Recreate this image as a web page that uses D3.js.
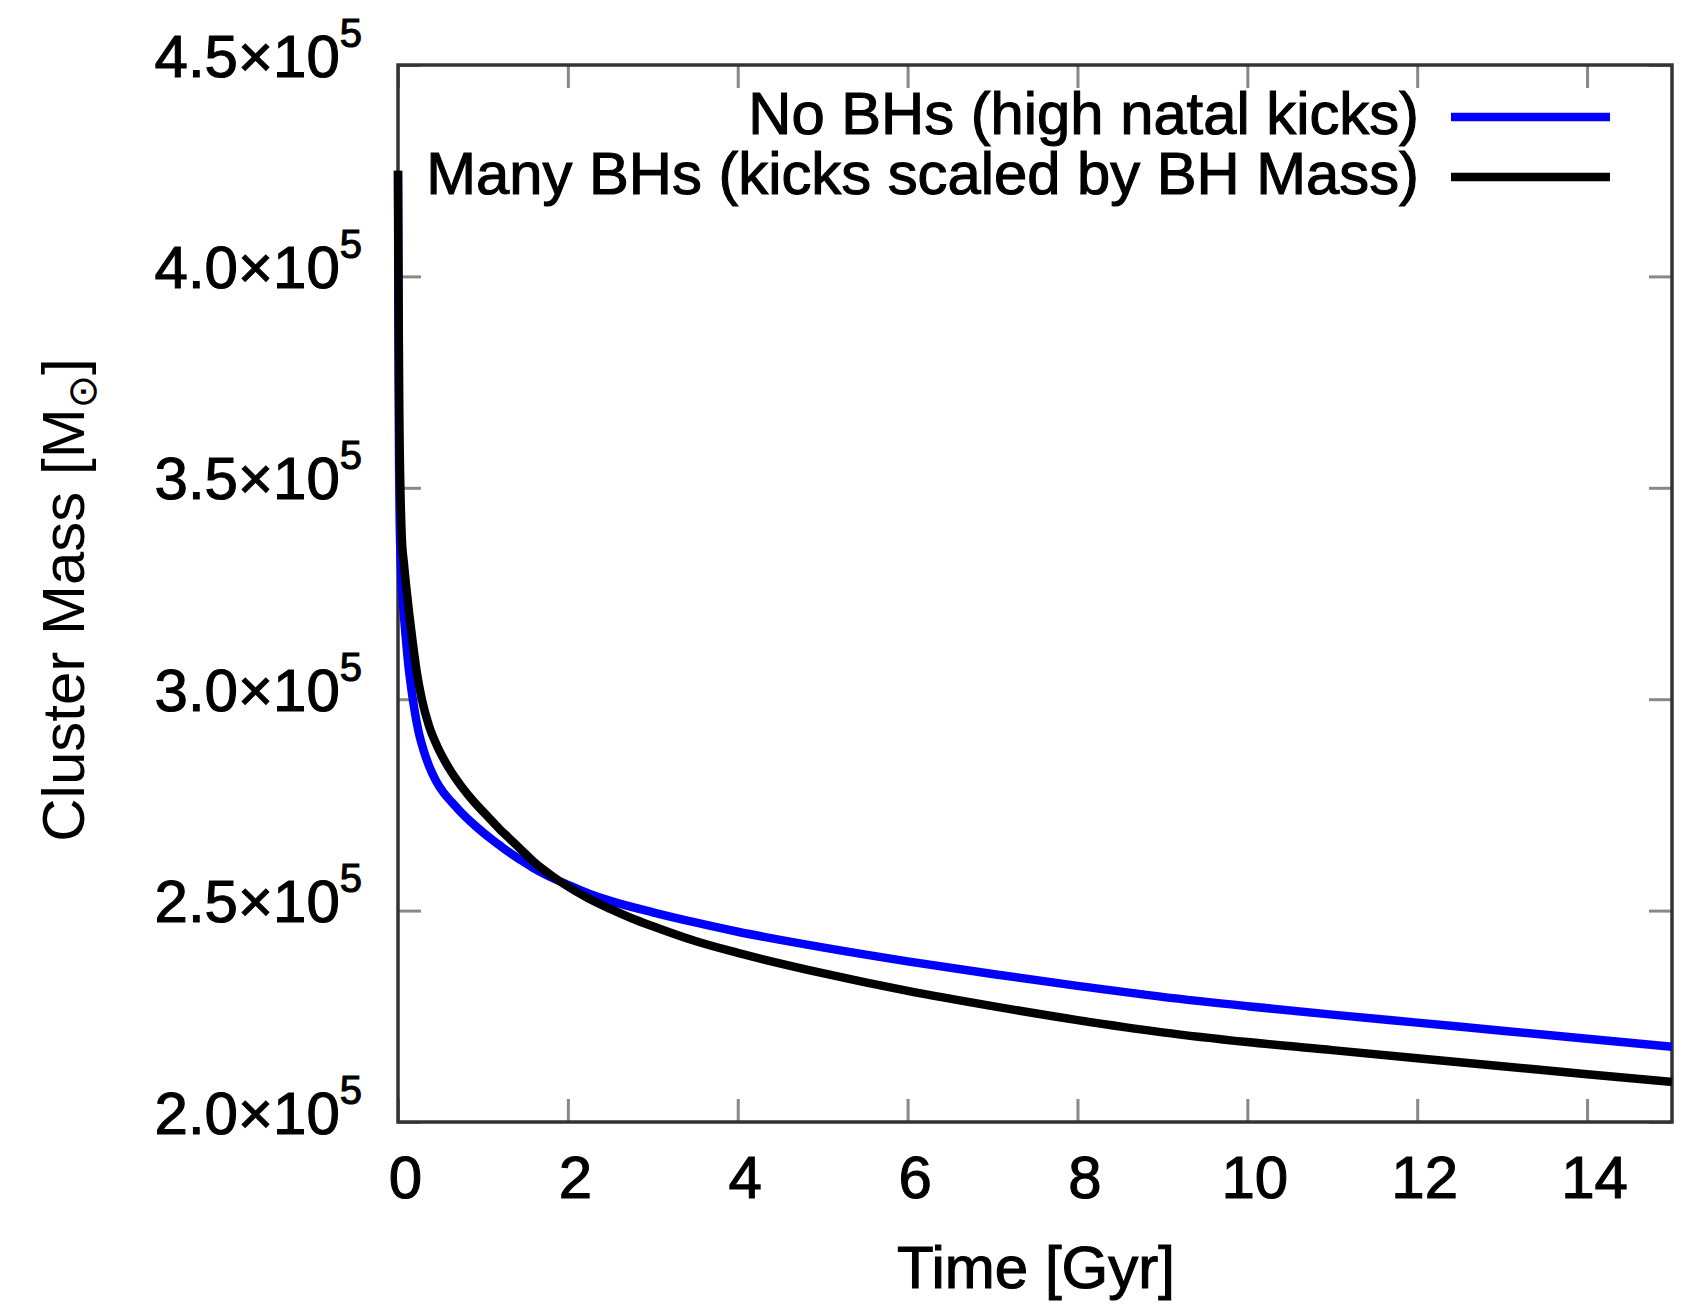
<!DOCTYPE html>
<html>
<head>
<meta charset="utf-8">
<script src="https://cdn.jsdelivr.net/npm/d3@7"></script>
<style>
  body { margin: 0; background: #fff; }
  svg { display: block; }
  text { font-family: "Liberation Sans", Arial, Helvetica, sans-serif; fill: #000; }
  .heavy { stroke: #000; stroke-width: 1.1px; }
</style>
</head>
<body>
<svg id="chart" width="1689" height="1312"></svg>
<script>
// Cluster mass evolution, in units of 1e5 solar masses, versus time in Gyr.
const noBHTime = [0, 0.004, 0.008, 0.013, 0.02, 0.03, 0.045, 0.065, 0.09, 0.12, 0.15, 0.19, 0.24, 0.30, 0.37, 0.45, 0.54, 0.63, 0.75, 0.88, 1.0, 1.1, 1.18, 1.3, 1.45, 1.6, 1.8, 2.0, 2.25, 2.5, 3.0, 3.5, 4.0, 5.0, 6.0, 7.0, 8.0, 9.0, 10.0, 11.0, 12.0, 13.0, 14.0, 15.0];
const noBHMass = [4.25, 3.95, 3.72, 3.55, 3.42, 3.34, 3.27, 3.21, 3.15, 3.085, 3.035, 2.98, 2.925, 2.88, 2.84, 2.806, 2.778, 2.757, 2.731, 2.706, 2.685, 2.669, 2.657, 2.639, 2.619, 2.6, 2.579, 2.561, 2.54, 2.523, 2.496, 2.472, 2.450, 2.413, 2.380, 2.350, 2.322, 2.296, 2.274, 2.254, 2.235, 2.216, 2.197, 2.178];

const manyBHTime = [0, 0.008, 0.016, 0.028, 0.045, 0.07, 0.10, 0.13, 0.17, 0.22, 0.28, 0.36, 0.47, 0.6, 0.75, 0.9, 1.05, 1.2, 1.3, 1.45, 1.6, 1.8, 2.0, 2.25, 2.5, 2.75, 3.0, 3.5, 4.0, 5.0, 6.0, 7.0, 8.0, 9.0, 10.0, 11.0, 12.0, 13.0, 14.0, 15.0];
const manyBHMass = [4.25, 3.9, 3.66, 3.5, 3.38, 3.32, 3.26, 3.205, 3.14, 3.065, 3.0, 2.94, 2.885, 2.837, 2.793, 2.756, 2.724, 2.692, 2.673, 2.644, 2.615, 2.584, 2.557, 2.528, 2.504, 2.482, 2.463, 2.428, 2.400, 2.352, 2.310, 2.274, 2.241, 2.212, 2.189, 2.170, 2.151, 2.132, 2.113, 2.095];

const seriesNames = ["No BHs (high natal kicks)", "Many BHs (kicks scaled by BH Mass)"];
const seriesColors = ["#0000ff", "#000000"];

const xTicks = [0, 2, 4, 6, 8, 10, 12, 14];
const yTicks = [2.0, 2.5, 3.0, 3.5, 4.0, 4.5];
const yTickLabels = ["2.0", "2.5", "3.0", "3.5", "4.0", "4.5"];

const svg = d3.select("#chart");
const plot = { left: 398, right: 1672, top: 65, bottom: 1122 };

const x = d3.scaleLinear().domain([0, 15]).range([plot.left, plot.right]);
const y = d3.scaleLinear().domain([2.0, 4.5]).range([plot.bottom, plot.top]);

const tickLen = 23;
const tickColor = "#888";

function styleAxis(g) {
  g.select(".domain").remove();
  g.selectAll(".tick line").attr("stroke", tickColor).attr("stroke-width", 3);
}

// bottom axis with labels
const gBottom = svg.append("g")
  .attr("transform", `translate(0,${plot.bottom})`)
  .call(d3.axisBottom(x).tickValues(xTicks).tickSize(-tickLen).tickFormat(d3.format("d")));
styleAxis(gBottom);
gBottom.selectAll(".tick text")
  .attr("y", 76).attr("dy", null).attr("dx", 7)
  .attr("class", "heavy")
  .style("font-size", "60px").attr("fill", "#000");

// top mirror ticks
const gTop = svg.append("g")
  .attr("transform", `translate(0,${plot.top})`)
  .call(d3.axisTop(x).tickValues(xTicks).tickSize(-tickLen).tickFormat(""));
styleAxis(gTop);

// left axis with ×10^5 labels
const gLeft = svg.append("g")
  .attr("transform", `translate(${plot.left},0)`)
  .call(d3.axisLeft(y).tickValues(yTicks).tickSize(-tickLen).tickFormat(""));
styleAxis(gLeft);
gLeft.selectAll(".tick").each(function(d, i) {
  const t = d3.select(this).select("text")
    .attr("x", -36).attr("dy", null).attr("y", 11)
    .attr("text-anchor", "end").attr("fill", "#000")
    .attr("class", "heavy")
    .style("font-size", "60px");
  t.text(null);
  t.append("tspan").text(yTickLabels[i] + "×10");
  t.append("tspan").attr("dy", -30).style("font-size", "40px").text("5");
});

// right mirror ticks
const gRight = svg.append("g")
  .attr("transform", `translate(${plot.right},0)`)
  .call(d3.axisRight(y).tickValues(yTicks).tickSize(-tickLen).tickFormat(""));
styleAxis(gRight);

// frame
svg.append("rect")
  .attr("x", plot.left).attr("y", plot.top)
  .attr("width", plot.right - plot.left).attr("height", plot.bottom - plot.top)
  .attr("fill", "none").attr("stroke", "#333").attr("stroke-width", 3.5);

// curves
const line = d3.line()
  .x(d => x(d[0])).y(d => y(d[1]))
  .curve(d3.curveMonotoneX);

const series = [
  d3.zip(noBHTime, noBHMass),
  d3.zip(manyBHTime, manyBHMass)
];

svg.append("g").selectAll("path")
  .data(series)
  .join("path")
  .attr("d", line)
  .attr("fill", "none")
  .attr("stroke", (d, i) => seriesColors[i])
  .attr("stroke-width", 8.5)
  .attr("stroke-linejoin", "round");

// legend
const legendY = [117, 177];
const legend = svg.append("g");
seriesNames.forEach((name, i) => {
  legend.append("text")
    .attr("x", 1419).attr("y", legendY[i] + 17)
    .attr("text-anchor", "end")
    .attr("class", "heavy")
    .style("font-size", "59.75px")
    .text(name);
  legend.append("line")
    .attr("x1", 1451).attr("x2", 1610)
    .attr("y1", legendY[i]).attr("y2", legendY[i])
    .attr("stroke", seriesColors[i]).attr("stroke-width", 8.5);
});

// axis titles
svg.append("text")
  .attr("x", 1036).attr("y", 1288)
  .attr("text-anchor", "middle")
  .attr("class", "heavy")
  .style("font-size", "60px")
  .text("Time [Gyr]");

const yTitle = svg.append("text")
  .attr("transform", "translate(84,600) rotate(-90)")
  .attr("text-anchor", "middle")
  .style("font-size", "60px");
yTitle.append("tspan").text("Cluster Mass [M");
yTitle.append("tspan").attr("dy", 12).style("font-size", "40px")
  .style("font-family", "'DejaVu Sans', sans-serif").text("⊙");
yTitle.append("tspan").attr("dy", -12).text("]");
</script>
</body>
</html>
